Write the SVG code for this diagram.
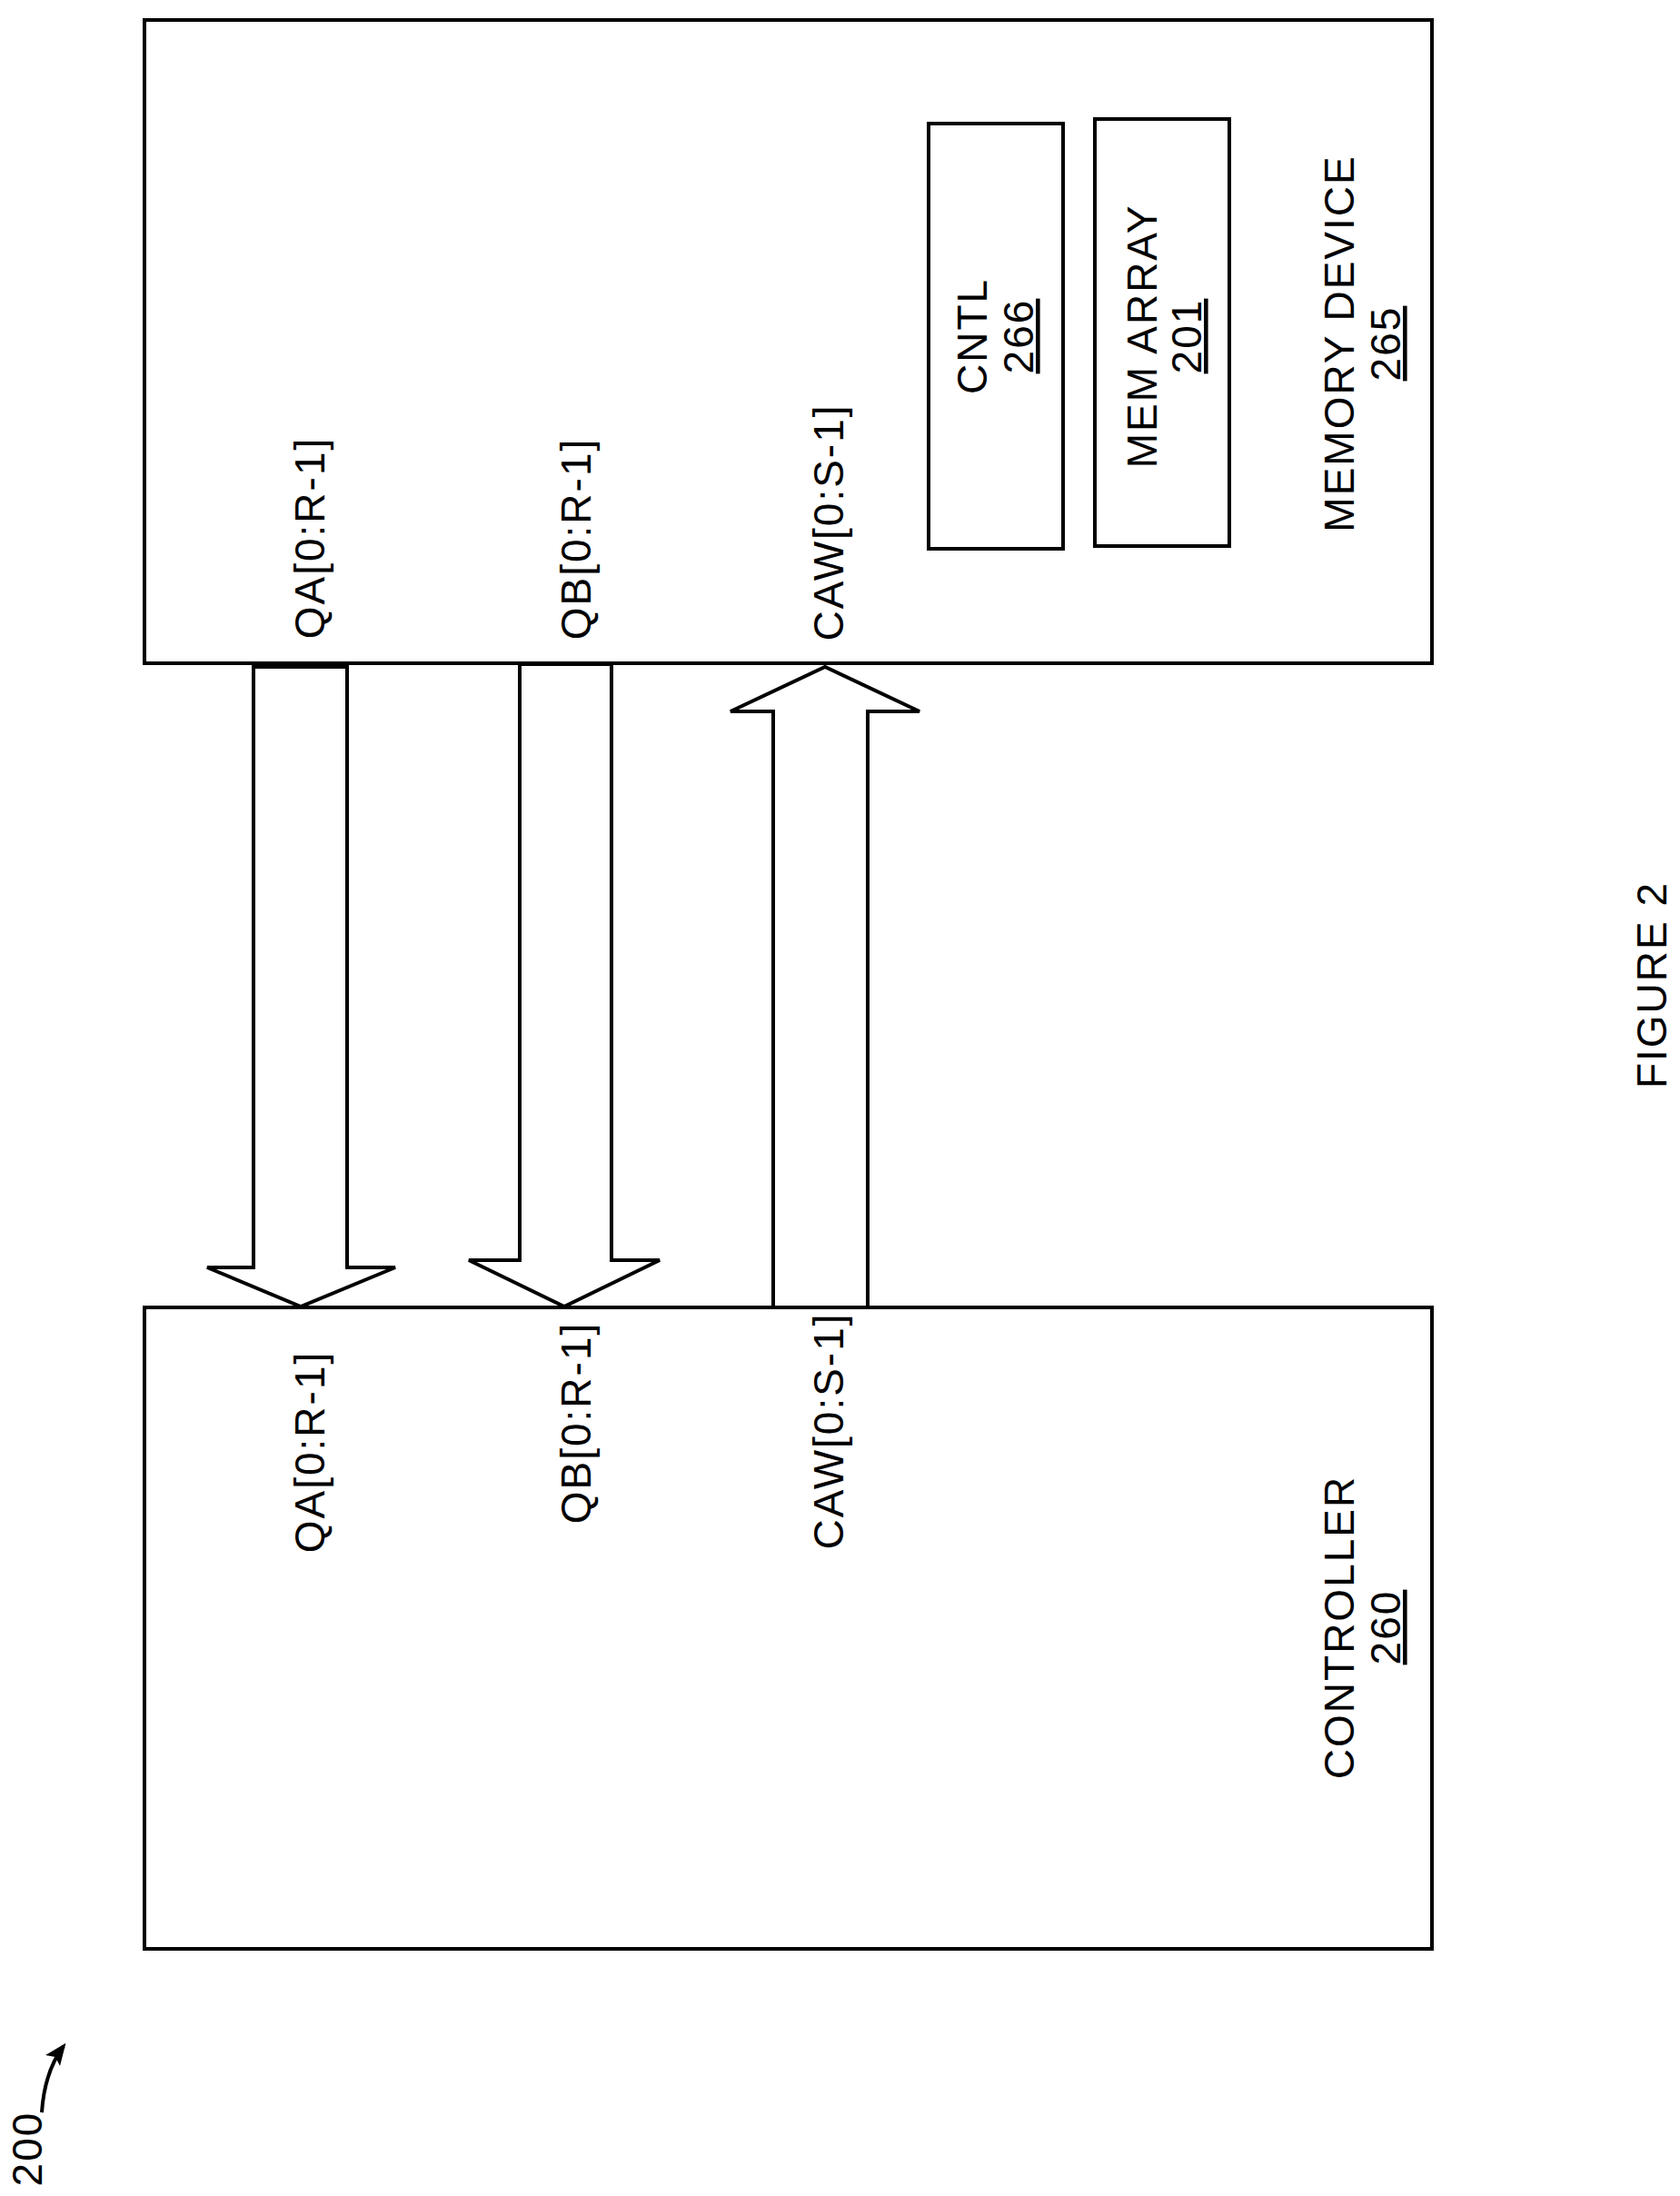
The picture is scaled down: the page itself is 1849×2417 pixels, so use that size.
<svg xmlns="http://www.w3.org/2000/svg" width="1849" height="2417" viewBox="0 0 1849 2417">
<style>
.b{fill:#fff;stroke:#000;stroke-width:4}
.t{font-family:"Liberation Sans",Arial,sans-serif;font-size:46px;letter-spacing:2px;fill:#000;text-anchor:middle}
.u{text-decoration:underline}
</style>
<defs><marker id="ah" markerWidth="24" markerHeight="20" refX="20" refY="10" orient="auto" markerUnits="userSpaceOnUse" viewBox="0 0 24 20"><path d="M0,0 L24,10 L0,20 L5,10 z"/></marker></defs>
<rect width="1849" height="2417" fill="#fff"/>
<g id="connectors">
<path class="b" d="M279,734 L382,734 L382,1395 L435,1395 L331,1438 L228,1395 L279,1395 Z"/>
<path class="b" d="M572,731 L673,731 L673,1387 L726,1387 L621,1438 L516,1387 L572,1387 Z"/>
<path class="b" d="M851,1439 L851,783 L804,783 L908,734 L1012,783 L955,783 L955,1439"/>
<path d="M46,2325 C48,2295 55,2272 70,2252" fill="none" stroke="#000" stroke-width="4" marker-end="url(#ah)"/>
</g>
<g id="memdev">
<rect class="b" x="159" y="22" width="1417" height="708" fill="none" style="fill:none"/>
<text class="t" transform="translate(357,592) rotate(-90)">QA[0:R-1]</text>
<text class="t" transform="translate(650,593) rotate(-90)">QB[0:R-1]</text>
<text class="t" transform="translate(928,575) rotate(-90)">CAW[0:S-1]</text>
<text class="t" transform="translate(1490,378) rotate(-90)">MEMORY DEVICE</text>
<text class="t u" transform="translate(1541,378) rotate(-90)">265</text>
</g>
<g id="cntl">
<rect class="b" x="1022" y="136" width="148" height="468"/>
<text class="t" transform="translate(1086,370) rotate(-90)">CNTL</text>
<text class="t u" transform="translate(1137,370) rotate(-90)">266</text>
</g>
<g id="memarray">
<rect class="b" x="1205" y="131" width="148" height="470"/>
<text class="t" transform="translate(1273,370) rotate(-90)">MEM ARRAY</text>
<text class="t u" transform="translate(1322,370) rotate(-90)">201</text>
</g>
<g id="controller">
<rect class="b" x="159" y="1439" width="1417" height="706" style="fill:none"/>
<text class="t" transform="translate(357,1598) rotate(-90)">QA[0:R-1]</text>
<text class="t" transform="translate(650,1566) rotate(-90)">QB[0:R-1]</text>
<text class="t" transform="translate(928,1575) rotate(-90)">CAW[0:S-1]</text>
<text class="t" transform="translate(1490,1791) rotate(-90)">CONTROLLER</text>
<text class="t u" transform="translate(1541,1791) rotate(-90)">260</text>
</g>
<text class="t" transform="translate(1834,1084) rotate(-90)">FIGURE 2</text>
<text class="t" transform="translate(46,2365) rotate(-90)">200</text>
</svg>
